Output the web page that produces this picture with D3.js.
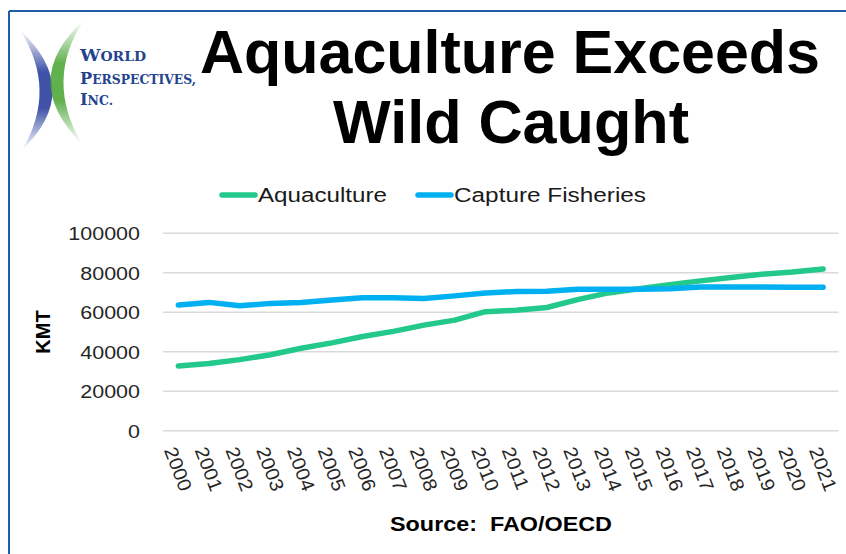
<!DOCTYPE html>
<html>
<head>
<meta charset="utf-8">
<script src="https://cdn.jsdelivr.net/npm/d3@7"></script>
<style>
  html, body { margin: 0; padding: 0; background: #fff; }
  svg { display: block; }
</style>
</head>
<body>
<svg id="chart" width="846" height="554"></svg>
<script>
// Years on the category axis
const years = ["2000","2001","2002","2003","2004","2005","2006","2007","2008","2009","2010",
               "2011","2012","2013","2014","2015","2016","2017","2018","2019","2020","2021"];
// Production in thousand metric tonnes (KMT)
const aquaculture = [32800, 34000, 36000, 38500, 41800, 44500, 47700, 50300, 53500, 56000, 60300,
                     61000, 62400, 66400, 69800, 71900, 74000, 75900, 77600, 79300, 80400, 81900];
const capture = [63700, 65000, 63300, 64500, 64900, 66200, 67300, 67300, 67000, 68300, 69700,
                 70500, 70700, 71700, 71700, 71700, 71900, 72800, 72800, 72800, 72700, 72700];
const yTicks = [0, 20000, 40000, 60000, 80000, 100000];
const seriesNames = ["Aquaculture", "Capture Fisheries"];
const seriesColors = ["#22c98b", "#00b0f0"];

const svg = d3.select("#chart");
const font = "'Liberation Sans', Arial, sans-serif";

// Frame lines (top and left)
svg.append("line").attr("x1", 9).attr("x2", 846).attr("y1", 11).attr("y2", 11)
  .attr("stroke", "#1f5fa8").attr("stroke-width", 2);
svg.append("line").attr("x1", 9).attr("x2", 9).attr("y1", 11).attr("y2", 554)
  .attr("stroke", "#1f5fa8").attr("stroke-width", 2);

// Logo: two crossing crescents plus company name
const defs = svg.append("defs");
function fadeGrad(id, color) {
  const g = defs.append("linearGradient").attr("id", id)
    .attr("x1", 0).attr("y1", 0).attr("x2", 0).attr("y2", 1);
  g.append("stop").attr("offset", "0%").attr("stop-color", color).attr("stop-opacity", 0);
  g.append("stop").attr("offset", "35%").attr("stop-color", color).attr("stop-opacity", 0.9);
  g.append("stop").attr("offset", "65%").attr("stop-color", color).attr("stop-opacity", 0.9);
  g.append("stop").attr("offset", "100%").attr("stop-color", color).attr("stop-opacity", 0);
}
fadeGrad("blueFade", "#2b3f9e");
fadeGrad("greenFade", "#4fa83a");
svg.append("path").attr("d", "M20,30 Q84,90 22,150 Q58,90 20,30 Z").attr("fill", "url(#blueFade)");
svg.append("path").attr("d", "M84,20 Q18,80 82,144 Q44,80 84,20 Z").attr("fill", "url(#greenFade)");

const logo = svg.append("g").attr("fill", "#23438f")
  .style("font-family", "'DejaVu Serif', 'Liberation Serif', serif").style("font-weight", "bold");
[["W", "ORLD", 61, 66], ["P", "ERSPECTIVES,", 84, 116], ["I", "NC.", 105, 33]].forEach(([a, b, y, w]) => {
  const t = logo.append("text").attr("x", 80).attr("y", y)
    .attr("textLength", w).attr("lengthAdjust", "spacingAndGlyphs");
  t.append("tspan").style("font-size", "17px").text(a);
  t.append("tspan").style("font-size", "13px").text(b);
});

// Title
const title = svg.append("g").style("font-family", font).style("font-weight", "bold")
  .style("font-size", "62px").attr("fill", "#000").attr("text-anchor", "middle");
title.append("text").attr("x", 510).attr("y", 73).attr("textLength", 620)
  .attr("lengthAdjust", "spacingAndGlyphs").text("Aquaculture Exceeds");
title.append("text").attr("x", 511).attr("y", 143).attr("textLength", 356)
  .attr("lengthAdjust", "spacingAndGlyphs").text("Wild Caught");

// Scales
const x = d3.scalePoint().domain(years).range([163, 838.5]).padding(0.5);
const y = d3.scaleLinear().domain([0, 100000]).range([430.7, 233.3]);

// Gridlines
svg.append("g").selectAll("line").data(yTicks).join("line")
  .attr("x1", 163).attr("x2", 838.5)
  .attr("y1", d => y(d)).attr("y2", d => y(d))
  .attr("stroke", "#d9d9d9").attr("stroke-width", 1.5);

// Y axis labels
const yAxis = svg.append("g").attr("transform", "translate(140,0)")
  .call(d3.axisLeft(y).tickValues(yTicks).tickFormat(d3.format("d")).tickSize(0).tickPadding(0));
yAxis.select(".domain").remove();
yAxis.selectAll("text").style("font-family", font).style("font-size", "19px")
  .attr("fill", "#262626").attr("dy", "0.35em")
  .each(function () {
    const len = this.getComputedTextLength();
    d3.select(this).attr("textLength", len * 1.13).attr("lengthAdjust", "spacingAndGlyphs");
  });

// Y axis title
svg.append("text").attr("transform", "translate(50,332) rotate(-90)")
  .attr("text-anchor", "middle").style("font-family", font).style("font-weight", "bold")
  .style("font-size", "20px").attr("fill", "#000").text("KMT");

// X axis labels, rotated
const xAxis = svg.append("g").attr("transform", "translate(0,431)")
  .call(d3.axisBottom(x).tickSize(0).tickPadding(0));
xAxis.select(".domain").remove();
xAxis.selectAll("text")
  .style("font-family", font).style("font-size", "19px").attr("fill", "#262626")
  .attr("text-anchor", "start").attr("dy", null).attr("y", 0).attr("x", 0)
  .attr("transform", "translate(-15,19) rotate(69)")
  .each(function () {
    const len = this.getComputedTextLength();
    d3.select(this).attr("textLength", len * 1.08).attr("lengthAdjust", "spacingAndGlyphs");
  });

// Lines
const line = d3.line().x((d, i) => x(years[i])).y(d => y(d));
[aquaculture, capture].forEach((vals, k) => {
  svg.append("path").datum(vals).attr("d", line)
    .attr("fill", "none").attr("stroke", seriesColors[k]).attr("stroke-width", 5.5)
    .attr("stroke-linecap", "round").attr("stroke-linejoin", "round");
});

// Legend
const legendItems = [
  { x: 222, w: 129 },
  { x: 418, w: 192 }
];
legendItems.forEach((it, k) => {
  svg.append("line").attr("x1", it.x).attr("x2", it.x + 33).attr("y1", 195).attr("y2", 195)
    .attr("stroke", seriesColors[k]).attr("stroke-width", 5.5).attr("stroke-linecap", "round");
  svg.append("text").attr("x", it.x + 36).attr("y", 202)
    .style("font-family", font).style("font-size", "20px").attr("fill", "#1a1a1a")
    .attr("textLength", it.w).attr("lengthAdjust", "spacingAndGlyphs")
    .text(seriesNames[k]);
});

// Source note
svg.append("text").attr("x", 501).attr("y", 531).attr("text-anchor", "middle")
  .style("font-family", "'Liberation Sans Narrow', 'Arial Narrow', " + font)
  .style("font-weight", "bold").style("font-size", "20px").attr("fill", "#000")
  .attr("textLength", 222).attr("lengthAdjust", "spacingAndGlyphs")
  .attr("xml:space", "preserve").style("white-space", "pre")
  .text("Source:  FAO/OECD");
</script>
</body>
</html>
